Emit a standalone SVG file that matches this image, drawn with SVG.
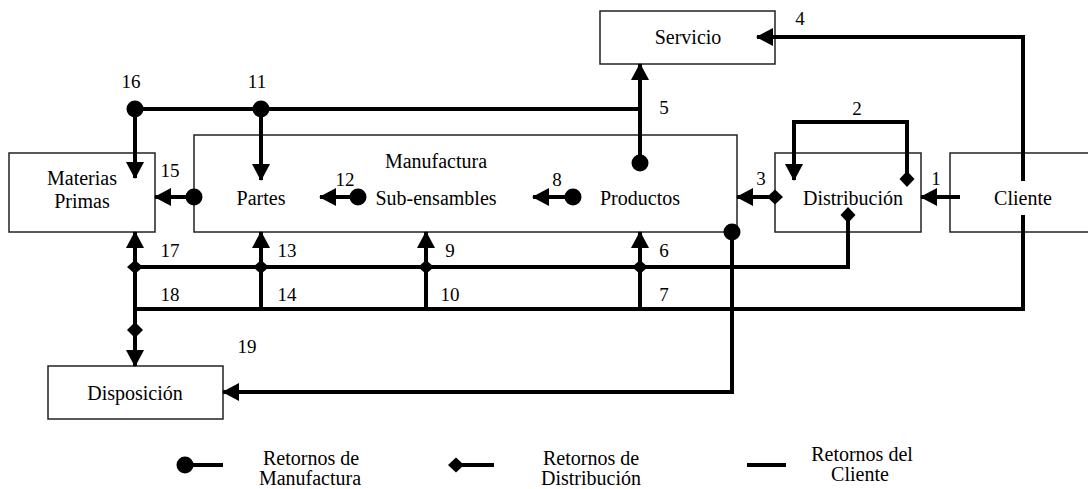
<svg xmlns="http://www.w3.org/2000/svg" width="1088" height="489" viewBox="0 0 1088 489">
<style>
.box{fill:#fff;stroke:#222;stroke-width:1.5}
.nb{fill:none;stroke:#222;stroke-width:1.5}
.lbl{font-size:20px;fill:#000;text-anchor:middle}
.num{font-size:19px;fill:#000;text-anchor:middle}
.ln{fill:none;stroke:#000;stroke-width:4}
</style>
<defs>
<marker id="arr" markerUnits="userSpaceOnUse" markerWidth="18" markerHeight="18" refX="16" refY="9" orient="auto">
<path d="M0,0 L17,9 L0,18 z" fill="#000"/>
</marker>
<marker id="dot" markerUnits="userSpaceOnUse" markerWidth="20" markerHeight="20" refX="10" refY="10" orient="auto">
<circle cx="10" cy="10" r="8.5" fill="#000"/>
</marker>
<marker id="dia" markerUnits="userSpaceOnUse" markerWidth="18" markerHeight="18" refX="9" refY="9" orient="auto">
<path d="M1,9 L9,1.5 L17,9 L9,16.5 z" fill="#000"/>
</marker>
</defs>

<g font-family="'Liberation Serif', 'Times New Roman', serif">
<g id="servicio">
<rect class="box" x="600" y="11" width="175" height="53"/>
<text class="lbl" x="688" y="44">Servicio</text>
</g>
<g id="materias">
<rect class="box" x="9" y="153" width="146" height="79"/>
<text class="lbl" x="82" y="185">Materias</text>
<text class="lbl" x="82" y="208">Primas</text>
</g>
<g id="manufactura">
<rect class="nb" x="194" y="135" width="543" height="97"/>
<text class="lbl" x="436" y="168">Manufactura</text>
</g>
<g id="partes"><text class="lbl" x="261" y="205">Partes</text></g>
<g id="subensambles"><text class="lbl" x="436" y="205">Sub-ensambles</text></g>
<g id="productos"><text class="lbl" x="640" y="205">Productos</text></g>
<g id="distribucion">
<rect class="nb" x="775" y="153" width="146" height="79"/>
<text class="lbl" x="853" y="205">Distribución</text>
</g>
<g id="cliente">
<rect class="nb" x="950" y="153" width="145" height="79"/>
<text class="lbl" x="1023" y="205">Cliente</text>
</g>
<g id="disposicion">
<rect class="box" x="48" y="366" width="175" height="53"/>
<text class="lbl" x="135" y="400">Disposición</text>
</g>

<g id="connectors">
<path class="ln" d="M135,109 L640,109"/>
<path class="ln" d="M135,109 L135,178" marker-start="url(#dot)" marker-end="url(#arr)"/>
<path class="ln" d="M261,109 L261,180" marker-start="url(#dot)" marker-end="url(#arr)"/>
<path class="ln" d="M640,163 L640,64" marker-start="url(#dot)" marker-end="url(#arr)"/>
<path class="ln" d="M194,197 L155,197" marker-start="url(#dot)" marker-end="url(#arr)"/>
<path class="ln" d="M358,197 L320,197" marker-start="url(#dot)" marker-end="url(#arr)"/>
<path class="ln" d="M573,197 L533,197" marker-start="url(#dot)" marker-end="url(#arr)"/>
<path class="ln" d="M732,232 L732,392 L223,392" marker-start="url(#dot)" marker-end="url(#arr)"/>
<path class="ln" d="M775,197 L737,197" marker-start="url(#dia)" marker-end="url(#arr)"/>
<path class="ln" d="M907,179 L907,122 L794,122 L794,180" marker-start="url(#dia)" marker-end="url(#arr)"/>
<path class="ln" d="M848,215 L848,267 L135,267" marker-start="url(#dia)"/>
<path class="ln" d="M135,309 L135,366" marker-end="url(#arr)"/>
<path class="ln" d="M960,197 L921,197" marker-end="url(#arr)"/>
<path class="ln" d="M1023,181 L1023,37 L757,37" marker-end="url(#arr)"/>
<path class="ln" d="M1023,215 L1023,309 L135,309"/>
<path class="ln" d="M135,311 L135,232" marker-end="url(#arr)"/>
<path class="ln" d="M261,311 L261,232" marker-end="url(#arr)"/>
<path class="ln" d="M426,311 L426,232" marker-end="url(#arr)"/>
<path class="ln" d="M640,311 L640,232" marker-end="url(#arr)"/>
<path d="M127,267 L135,260 L143,267 L135,274 z"/>
<path d="M253,267 L261,260 L269,267 L261,274 z"/>
<path d="M418,267 L426,260 L434,267 L426,274 z"/>
<path d="M632,267 L640,260 L648,267 L640,274 z"/>
<path d="M127,330 L135,322 L143,330 L135,338 z"/>
</g>

<g id="numbers">
<text class="num" x="131" y="88">16</text>
<text class="num" x="257" y="88">11</text>
<text class="num" x="664" y="114">5</text>
<text class="num" x="170" y="177">15</text>
<text class="num" x="345" y="186">12</text>
<text class="num" x="557" y="186">8</text>
<text class="num" x="761" y="185">3</text>
<text class="num" x="936" y="185">1</text>
<text class="num" x="857" y="115">2</text>
<text class="num" x="800" y="25">4</text>
<text class="num" x="170" y="257">17</text>
<text class="num" x="287" y="257">13</text>
<text class="num" x="450" y="257">9</text>
<text class="num" x="664" y="257">6</text>
<text class="num" x="170" y="301">18</text>
<text class="num" x="287" y="301">14</text>
<text class="num" x="450" y="301">10</text>
<text class="num" x="664" y="301">7</text>
<text class="num" x="247" y="353">19</text>
</g>

<g id="legend">
<path class="ln" d="M185,465 L223,465" marker-start="url(#dot)"/>
<text class="lbl" x="311" y="465">Retornos de</text>
<text class="lbl" x="310" y="485">Manufactura</text>
<path class="ln" d="M456,465 L494,465" marker-start="url(#dia)"/>
<text class="lbl" x="591" y="465">Retornos de</text>
<text class="lbl" x="591" y="485">Distribución</text>
<path class="ln" d="M747,465 L786,465"/>
<text class="lbl" x="862" y="461">Retornos del</text>
<text class="lbl" x="860" y="481">Cliente</text>
</g>
</g>
</svg>
